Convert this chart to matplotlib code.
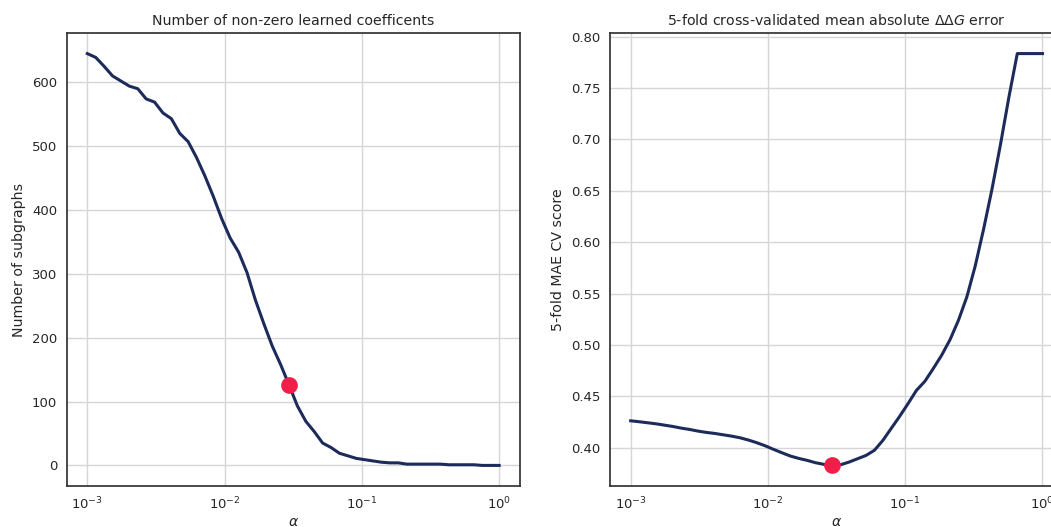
import numpy as np
import matplotlib
matplotlib.use("Agg")
import matplotlib.pyplot as plt

# Regularisation strengths scanned by the lasso path (log-spaced grid)
alphas = [0.001, 0.0011514, 0.0013257, 0.0015264, 0.0017575, 0.0020236,
          0.0023300, 0.0026827, 0.0030888, 0.0035565, 0.0040949, 0.0047149,
          0.0054287, 0.0062506, 0.0071969, 0.0082864, 0.0095410, 0.010985,
          0.012649, 0.014563, 0.016768, 0.019307, 0.022230, 0.025595,
          0.029471, 0.033932, 0.039069, 0.044984, 0.051795, 0.059636,
          0.068665, 0.079060, 0.091030, 0.10481, 0.12068, 0.13895,
          0.15999, 0.18421, 0.21210, 0.24421, 0.28118, 0.32375,
          0.37276, 0.42919, 0.49417, 0.56899, 0.65513, 0.75431,
          0.86851, 1.0]

# Non-zero coefficients left at each alpha
n_nonzero = [645, 639, 625, 610, 602, 594, 590, 574, 569, 552,
             543, 520, 507, 482, 453, 421, 386, 356, 334, 302,
             259, 222, 187, 158, 126, 93, 69, 53, 35, 28,
             19, 15, 11, 9, 7, 5, 4, 4, 2, 2,
             2, 2, 2, 1, 1, 1, 1, 0, 0, 0]

# 5-fold CV mean absolute error at each alpha
cv_mae = [0.4262, 0.4253, 0.4243, 0.4233, 0.4220, 0.4207, 0.4191, 0.4178,
          0.4162, 0.4149, 0.4139, 0.4126, 0.4113, 0.4097, 0.4075, 0.4049,
          0.4019, 0.3984, 0.3951, 0.3919, 0.3896, 0.3877, 0.3854, 0.3838,
          0.3828, 0.3835, 0.3861, 0.3893, 0.3925, 0.3975, 0.4071, 0.4188,
          0.4305, 0.4429, 0.4558, 0.4646, 0.4770, 0.4900, 0.5052, 0.5240,
          0.5468, 0.5770, 0.6130, 0.6520, 0.6950, 0.7410, 0.7835, 0.7835,
          0.7835, 0.7835]

line_color = "#1d2b5b"
best_color = "#f11e4a"

plt.rcParams.update({
    "font.family": "DejaVu Sans",
    "axes.edgecolor": "#333333",
    "axes.linewidth": 1.25,
    "grid.color": "#d6d6d6",
    "grid.linewidth": 1.0,
    "text.color": "#262626",
    "axes.labelcolor": "#262626",
    "xtick.color": "#262626",
    "ytick.color": "#262626",
})

best = int(np.argmin(cv_mae))

fig = plt.figure(figsize=(10.51, 5.27), dpi=100)
ax1 = fig.add_axes([0.0635, 0.0778, 0.4310, 0.8596])
ax2 = fig.add_axes([0.5805, 0.0778, 0.4310, 0.8596])

ax1.plot(alphas, n_nonzero, color=line_color, lw=2.2, zorder=3)
ax1.plot(alphas[best], n_nonzero[best], "o", color=best_color, ms=11, zorder=4)
ax1.set_title("Number of non-zero learned coefficents", fontsize=10.2)
ax1.set_ylabel("Number of subgraphs", fontsize=10.2)

ax2.plot(alphas, cv_mae, color=line_color, lw=2.2, zorder=3)
ax2.plot(alphas[best], cv_mae[best], "o", color=best_color, ms=11, zorder=4)
ax2.set_title(r"5-fold cross-validated mean absolute $\Delta\Delta G$ error", fontsize=10.2)
ax2.set_ylabel("5-fold MAE CV score", fontsize=10.2)
ax2.yaxis.set_major_formatter(matplotlib.ticker.FormatStrFormatter("%.2f"))

for ax in (ax1, ax2):
    ax.set_xscale("log")
    ax.set_xlabel(r"$\alpha$", fontsize=10.2, labelpad=2)
    ax.grid(True, which="major")
    ax.minorticks_off()
    ax.tick_params(axis="both", which="both", length=0, labelsize=9.5, pad=7)
    ax.set_axisbelow(True)

fig.savefig("out.png", dpi=100)
